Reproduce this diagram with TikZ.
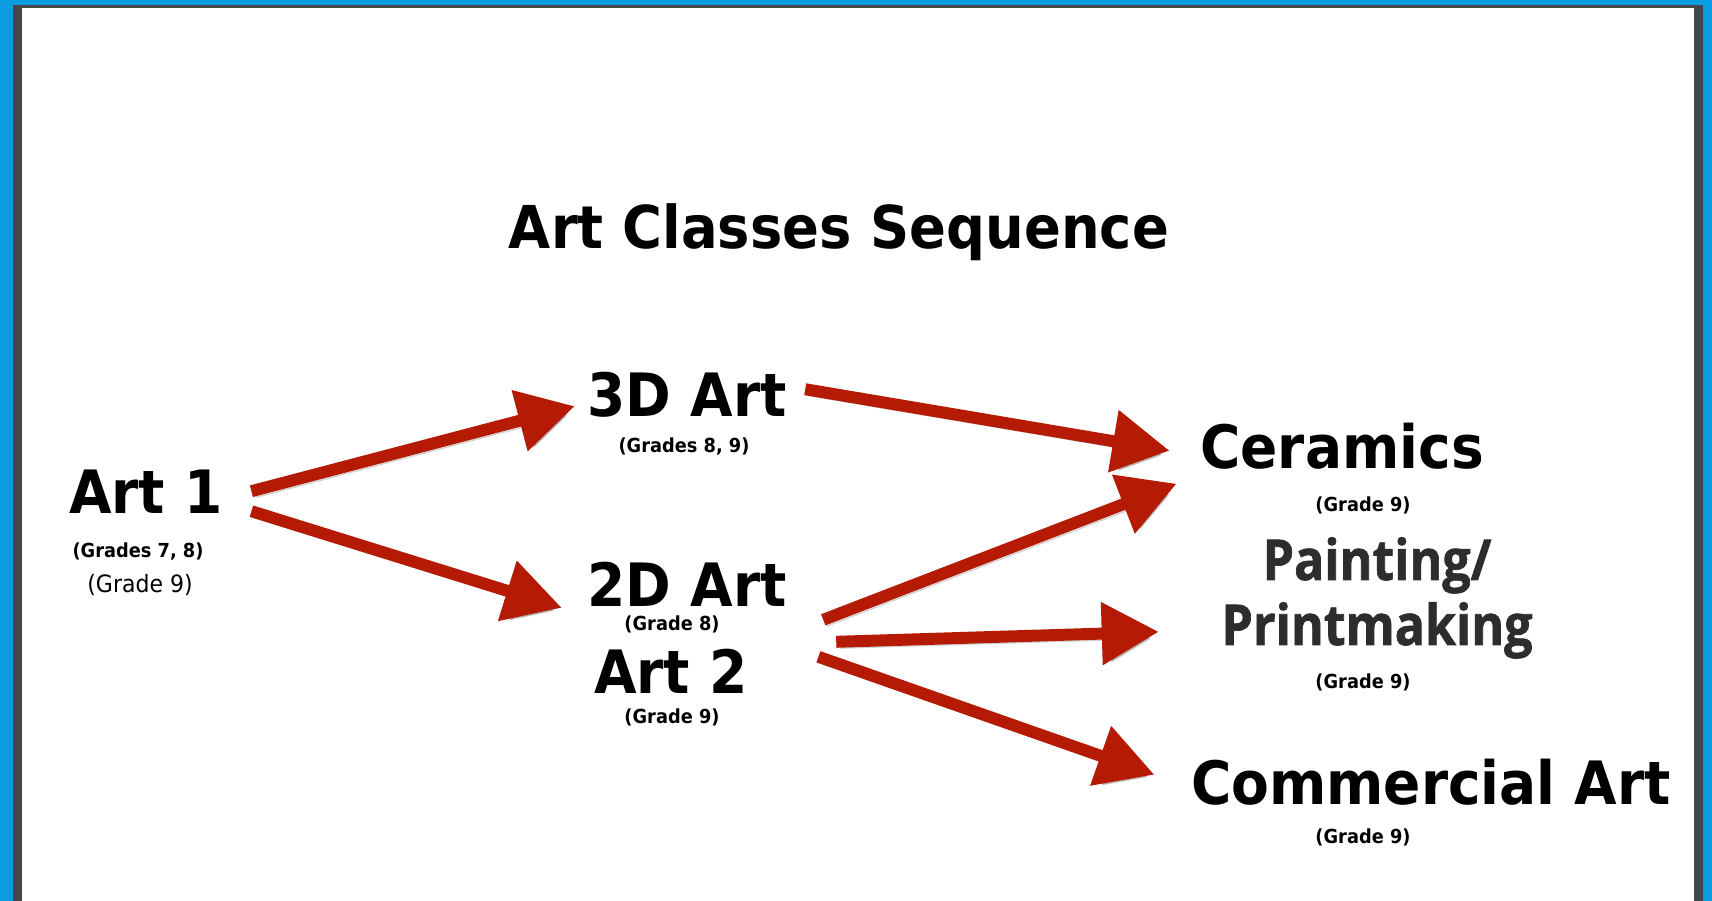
\documentclass[tikz,border=0pt]{standalone}
\usepackage{fontspec}
\usetikzlibrary{arrows.meta}
\newfontfamily\lblfont{DejaVu Sans}[FakeStretch=0.92]
\newfontfamily\pmfont{Open Sans}[FakeStretch=0.89, FakeBold=1.2]
\definecolor{arrred}{RGB}{180, 26, 4}
\definecolor{frameblue}{RGB}{11, 155, 224}
\definecolor{framegray}{RGB}{67, 71, 74}
\definecolor{pmgray}{RGB}{45, 45, 45}

\begin{document}
\begin{tikzpicture}[x=0.01cm, y=-0.01cm,
    lbl/.style={inner sep=0, anchor=base, font=\lblfont\bfseries\fontsize{17}{20}\selectfont},
    grade/.style={inner sep=0, anchor=base, font=\lblfont\bfseries\fontsize{5.5}{6.5}\selectfont},
    arr/.style={draw=arrred, line width=3.4pt, -{Triangle[length=0.57cm, width=0.6cm]},
                preaction={draw=black, opacity=0.18, transform canvas={shift={(1pt,-1.8pt)}}}}]

    % frame
    \fill[frameblue] (0,0) rectangle (1712,901);
    \fill[framegray] (13,5) rectangle (1703,901);
    \fill[white] (22,8) rectangle (1694,901);
    \useasboundingbox (0,0) rectangle (1712,901);

    \node[lbl, font=\lblfont\bfseries\fontsize{16.8}{20}\selectfont] (title) at (839,249) {Art Classes Sequence};

    \node[lbl] (art1) at (146,514) {Art 1};
    \node[grade] (art1g) at (138,558) {(Grades 7, 8)};
    \node[inner sep=0, anchor=base, font=\lblfont\fontsize{6.8}{8}\selectfont] (art1g2) at (140,593) {(Grade 9)};

    \node[lbl] (d3) at (687,417) {3D Art};
    \node[grade] (d3g) at (684,453) {(Grades 8, 9)};
    \node[lbl] (d2) at (687,607) {2D Art};
    \node[grade] (d2g) at (672,631) {(Grade 8)};
    \node[lbl] (art2) at (671,694) {Art 2};
    \node[grade] (art2g) at (672,724) {(Grade 9)};

    \node[lbl] (cer) at (1342,469) {Ceramics};
    \node[grade] (cerg) at (1363,512) {(Grade 9)};
    \node[inner sep=0, anchor=base, align=center, text=pmgray,
          font=\pmfont\bfseries\fontsize{16}{18.5}\selectfont] (paint) at (1377,645) {Painting/\\Printmaking};
    \node[grade] (paintg) at (1363,689) {(Grade 9)};
    \node[lbl] (com) at (1431,805) {Commercial Art};
    \node[grade] (comg) at (1363,844) {(Grade 9)};

    \draw[arr] ([shift={(28,-1)}]art1.east) -- ([shift={(-12,11)}]d3.west);
    \draw[arr] ([shift={(28,19)}]art1.east) -- ([shift={(-25,23)}]d2.west);
    \draw[arr] ([shift={(18,-6)}]d3.east) -- ([shift={(-30,4)}]cer.west);
    \draw[arr] ([shift={(36,35)}]d2.east) -- ([shift={(-23,37)}]cer.west);
    \draw[arr] ([shift={(49,57)}]d2.east) -- ([shift={(-62,34)}]paint.west);
    \draw[arr] ([shift={(70,-15)}]art2.east) -- ([shift={(-36,-8)}]com.west);
\end{tikzpicture}
\end{document}
